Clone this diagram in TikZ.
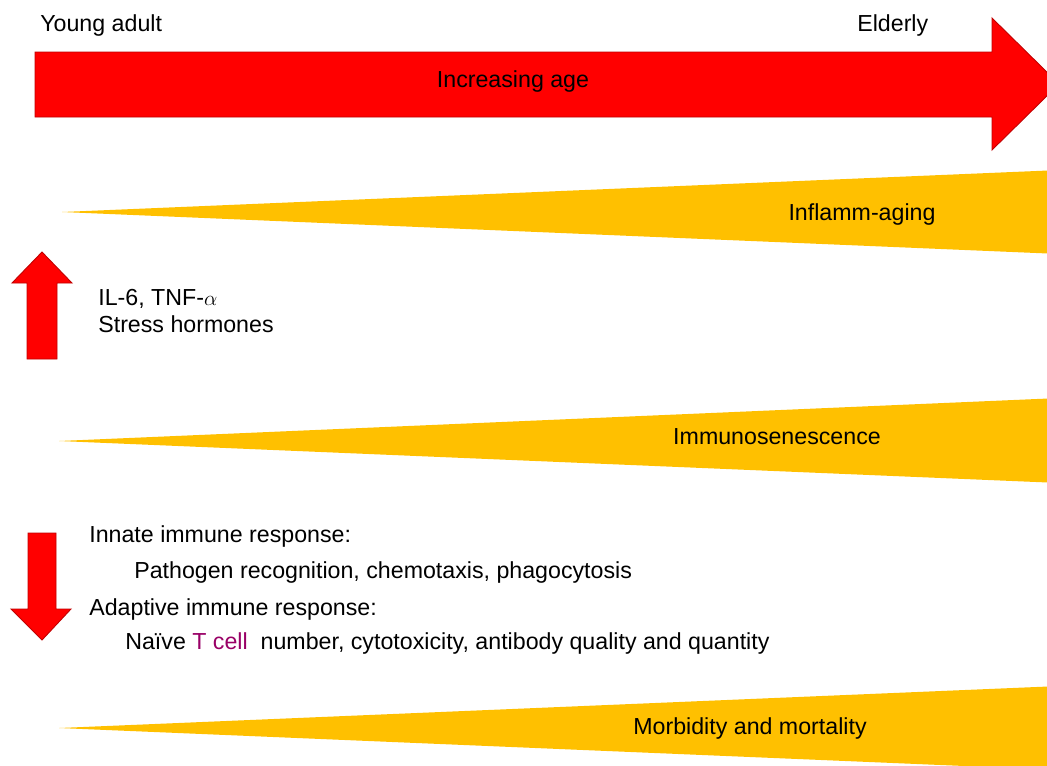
\documentclass[tikz,border=0pt]{standalone}
\usepackage{fontspec}
\setmainfont{Liberation Sans}
\usepackage{tikz}
\usetikzlibrary{positioning}
\usepackage{xcolor}
\definecolor{agered}{RGB}{255, 0, 0}
\definecolor{ageedge}{RGB}{192, 0, 0}
\definecolor{wedgegold}{RGB}{255, 192, 0}
\definecolor{tcellcolor}{RGB}{153, 0, 102}

\begin{document}
\begin{tikzpicture}[
    x=0.02cm, y=-0.02cm,
    label/.style={inner sep=0pt, font=\fontsize{13.2}{15.8}\selectfont, anchor=base west},
    blockarrow/.style={fill=agered, draw=ageedge, line width=0.5pt},
    wedge/.style={fill=wedgegold},
]
    \useasboundingbox (0,0) rectangle (1047,765);
    \clip (0,0) rectangle (1047,765);

    % Age arrow
    \draw[blockarrow] (35,52) -- (992,52) -- (992,18) -- (1059,84) -- (992,150) -- (992,117) -- (35,117) -- cycle;
    \node[label] (young) at (40,31) {Young adult};
    \node[label] (elderly) at (857,31) {Elderly};
    \node[label, anchor=base] (age) at (513,87) {Increasing age};

    % Wedges
    \fill[wedge] (62,212) -- (1060,170) -- (1060,254) -- cycle;
    \node[label, anchor=base] (inflamm) at (862,220) {Inflamm-aging};

    \fill[wedge] (59,441) -- (1060,398) -- (1060,483) -- cycle;
    \node[label, anchor=base] (immuno) at (777,444) {Immunosenescence};

    \fill[wedge] (59,728) -- (1060,686) -- (1060,770) -- cycle;
    \node[label, anchor=base] (morbid) at (750,734) {Morbidity and mortality};

    % Up arrow
    \draw[blockarrow] (42,252) -- (72,283) -- (57,283) -- (57,359) -- (27,359) -- (27,283) -- (12,283) -- cycle;
    \node[label] (cytokines) at (98,305) {IL-6, TNF-$\alpha$};
    \node[label] (stress) at (98,332) {Stress hormones};

    % Down arrow
    \draw[blockarrow] (28,533) -- (56,533) -- (56,609) -- (71,609) -- (42,640) -- (11,609) -- (28,609) -- cycle;
    \node[label] (innate) at (89,542) {Innate immune response:};
    \node[label] (pathogen) at (134,578) {Pathogen recognition, chemotaxis, phagocytosis};
    \node[label] (adaptive) at (89,615) {Adaptive immune response:};
    \node[label] (naive) at (125,649) {Naïve \textcolor{tcellcolor}{T cell}\ \ number, cytotoxicity, antibody quality and quantity};
\end{tikzpicture}
\end{document}
